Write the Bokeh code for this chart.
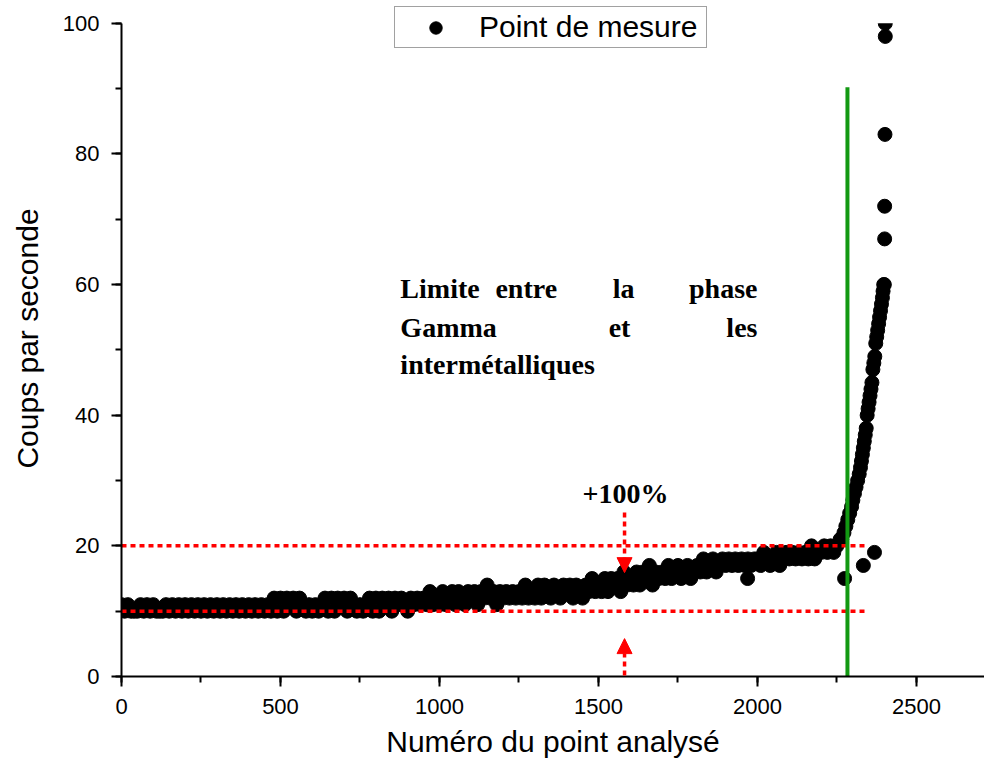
from bokeh.plotting import figure
from bokeh.models import (Legend, LegendItem, Label, Arrow, NormalHead,
                          SingleIntervalTicker, Range1d, BoxAnnotation)
from bokeh.embed import file_html
from bokeh.resources import INLINE

# ---------------- data ----------------
# sampled point numbers (every 10th point) for the flat part of the curve
main_x = list(range(0, 2270, 10))
main_y = [
    11, 10, 11, 10, 10,   10, 11, 10, 11, 10,   11, 10, 10, 10, 11,
    10, 11, 10, 11, 10,   11, 10, 11, 10, 11,   10, 11, 10, 11, 10,
    11, 10, 11, 10, 11,   10, 11, 10, 11, 10,   11, 10, 11, 10, 11,
    10, 11, 10, 12, 10,   12, 10, 12, 11, 12,   10, 12, 11, 10, 11,
    10, 11, 10, 11, 12,   10, 12, 10, 12, 11,   12, 10, 12, 11, 10,
    11, 10, 11, 12, 10,   12, 10, 12, 11, 12,   10, 12, 11, 12, 11,
    10, 12, 11, 12, 11,   12, 11, 13, 11, 12,   11, 13, 11, 12, 13,
    11, 13, 12, 11, 13,   12, 13, 11, 13, 12,   14, 12, 13, 11, 13,
    12, 13, 12, 13, 12,   13, 12, 14, 12, 13,   12, 14, 12, 14, 13,
    12, 14, 13, 12, 14,   13, 14, 12, 14, 13,   12, 14, 13, 15, 13,
    14, 13, 15, 13, 15,   14, 15, 13, 16, 14,   15, 14, 16, 14, 16,
    15, 17, 14, 16, 15,   16, 15, 17, 15, 16,   17, 15, 16, 17, 15,
    16, 17, 16, 18, 16,   17, 18, 16, 17, 18,   17, 18, 17, 18, 17,
    18, 17, 18, 17, 18,   18, 17, 19, 18, 17,   18, 19, 17, 18, 19,
    18, 19, 18, 19, 18,   19, 18, 20, 18, 19,   19, 20, 19, 20, 19,
    20, 21,
]
# steep rise (intermetallic points)
steep_x = [2265, 2272, 2278, 2284, 2290, 2296, 2300, 2305, 2310, 2315,
           2320, 2324, 2327, 2330, 2333, 2336, 2339, 2342, 2345, 2348,
           2351, 2354, 2357, 2360, 2363, 2366, 2369, 2372, 2375, 2378,
           2381, 2384, 2387, 2390, 2393, 2395, 2397, 2399]
steep_y = [21, 22, 23, 24, 25, 26, 27, 28, 29, 30,
           31, 32, 33, 34, 35, 36, 37, 38, 40, 41,
           42, 43, 44, 45, 47, 48, 49, 51, 52, 53,
           54, 55, 56, 57, 58, 59, 60, 60]
# isolated points
outlier_x = [1969, 2274, 2333, 2368, 2400, 2400, 2401, 2402, 2402]
outlier_y = [15, 15, 17, 19, 67, 72, 83, 98, 100]

# reference levels (Gamma phase level and +100 %)
ref_levels = [10, 20]
ref_x_end = 2349
# boundary between the Gamma phase and the intermetallics
limit_x = 2283
limit_top = 90.2
# +100 % arrows
arrow_x = 1582
arrow_upper = (25.1, 15.9)
arrow_lower = (-2.6, 5.8)

y_max = 100

all_x = main_x + steep_x + outlier_x
all_y = main_y + steep_y + outlier_y

# ---------------- figure ----------------
p = figure(width=984, height=763, output_backend="svg", toolbar_location=None,
           x_range=Range1d(0, 2714), y_range=Range1d(0, 103.5),
           min_border_left=121, min_border_right=0, min_border_top=0,
           min_border_bottom=87)
p.outline_line_color = None
p.grid.visible = False
p.background_fill_color = "white"

pts = p.scatter(all_x, all_y, size=14, marker="circle",
                fill_color="black", line_color="black")

# the original plot area stops at y = 100: hide what lies above it
p.add_layout(BoxAnnotation(bottom=y_max, left=2300, fill_color="white",
                           fill_alpha=1.0, line_alpha=0))

# red dotted reference lines
p.segment(x0=[0] * len(ref_levels), y0=ref_levels,
          x1=[ref_x_end] * len(ref_levels), y1=ref_levels,
          line_color="#ff0000", line_width=3.5, line_dash="5 4")

# green boundary
p.segment(x0=[limit_x], y0=[0], x1=[limit_x], y1=[limit_top],
          line_color="#129912", line_width=4)

# arrows
for (ys, ye) in (arrow_upper, arrow_lower):
    p.add_layout(Arrow(x_start=arrow_x, y_start=ys, x_end=arrow_x, y_end=ye,
                       line_color="#ff0000", line_width=3.5, line_dash="5 4",
                       end=NormalHead(size=15, fill_color="#ff0000",
                                      line_color="#ff0000", line_width=1)))

# annotations
serif = dict(text_font="Liberation Serif", text_font_style="bold",
             text_font_size="28px", text_color="black",
             text_baseline="alphabetic")
words = [
    ("Limite", 877, 59.4, "left"), ("entre", 1176, 59.4, "left"),
    ("la", 1545, 59.4, "left"), ("phase", 2000, 59.4, "right"),
    ("Gamma", 877, 53.4, "left"), ("et", 1532, 53.4, "left"),
    ("les", 2000, 53.4, "right"),
    ("intermétalliques", 877, 47.8, "left"),
    ("+100%", 1585, 28.0, "center"),
]
for t, x, y, al in words:
    p.add_layout(Label(x=x, y=y, text=t, text_align=al, **serif))

# axes
p.xaxis.ticker = SingleIntervalTicker(interval=500, num_minor_ticks=2)
p.yaxis.ticker = SingleIntervalTicker(interval=20, num_minor_ticks=2)
p.yaxis.bounds = (0, y_max)
p.xaxis.axis_label = "Numéro du point analysé"
p.yaxis.axis_label = "Coups par seconde"
for ax in (p.xaxis[0], p.yaxis[0]):
    ax.axis_line_width = 2
    ax.axis_line_color = "black"
    ax.major_tick_line_width = 2
    ax.minor_tick_line_width = 2
    ax.major_tick_line_color = "black"
    ax.minor_tick_line_color = "black"
    ax.major_tick_out = 10
    ax.major_tick_in = 0
    ax.minor_tick_out = 6
    ax.minor_tick_in = 0
    ax.major_label_text_font = "Liberation Sans"
    ax.major_label_text_font_size = "22px"
    ax.major_label_text_color = "black"
    ax.major_label_standoff = 12
    ax.axis_label_text_font = "Liberation Sans"
    ax.axis_label_text_font_size = "30px"
    ax.axis_label_text_font_style = "normal"
    ax.axis_label_text_color = "black"
p.xaxis.axis_label_standoff = 8
p.yaxis.axis_label_standoff = 16

legend = Legend(items=[LegendItem(label="Point de mesure", renderers=[pts])],
                location=(273, 628), margin=0, padding=3,
                glyph_width=75, glyph_height=31, label_standoff=6,
                label_width=224,
                label_text_font="Liberation Sans", label_text_font_size="30px",
                label_text_color="black",
                border_line_color="#444444", border_line_width=1.5,
                background_fill_alpha=1.0)
p.add_layout(legend)

open("out.html", "w").write(file_html(p, INLINE))
